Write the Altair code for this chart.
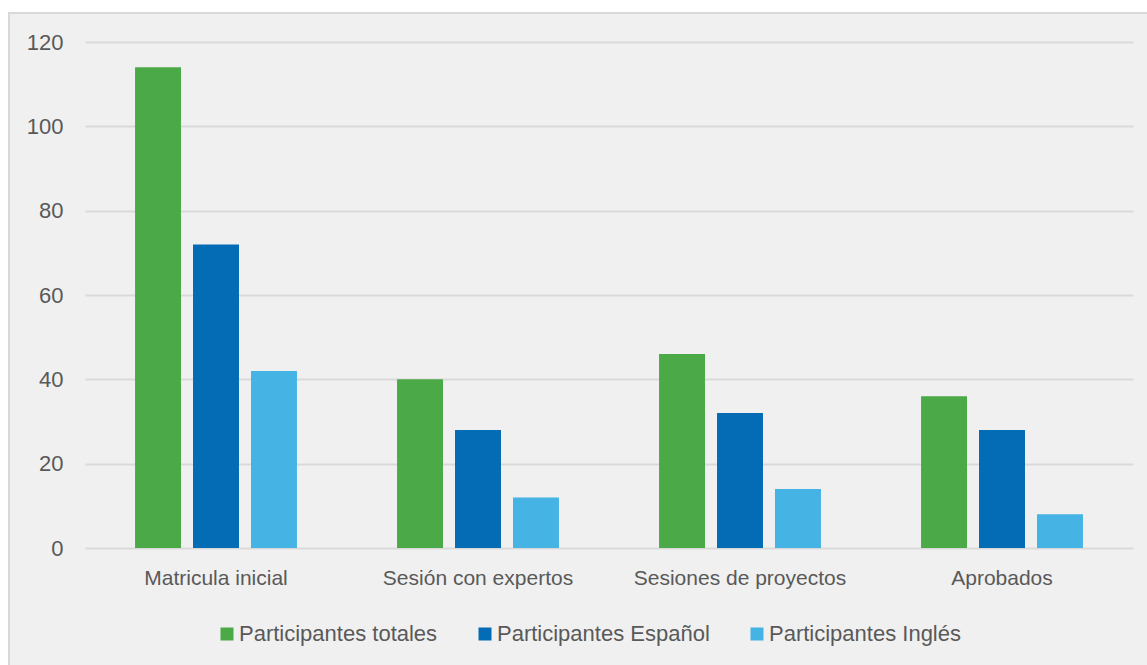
import altair as alt
import pandas as pd

categories = ["Matricula inicial", "Sesión con expertos", "Sesiones de proyectos", "Aprobados"]
series = ["Participantes totales", "Participantes Español", "Participantes Inglés"]
totales = [114, 40, 46, 36]
espanol = [72, 28, 32, 28]
ingles = [42, 12, 14, 8]
colors = ["#4CA948", "#046BB5", "#45B3E3"]
y_ticks = [0, 20, 40, 60, 80, 100, 120]

rows = []
for i, c in enumerate(categories):
    for s, vals in zip(series, [totales, espanol, ingles]):
        rows.append({"categoria": c, "serie": s, "valor": vals[i]})
df = pd.DataFrame(rows)

FONT = "Liberation Sans"
TXT = "#595959"

bars = alt.Chart(df).mark_bar().encode(
    x=alt.X("categoria:N", sort=categories, title=None,
            scale=alt.Scale(paddingInner=0.382, paddingOuter=0.191),
            axis=alt.Axis(labelAngle=0, ticks=False, domain=False, grid=False,
                          labelFontSize=21, labelColor=TXT, labelFont=FONT,
                          labelPadding=19, labelLimit=0)),
    xOffset=alt.XOffset("serie:N", sort=series,
                        scale=alt.Scale(paddingInner=0.207, paddingOuter=0)),
    y=alt.Y("valor:Q", title=None,
            scale=alt.Scale(domain=[0, 120], nice=False),
            axis=alt.Axis(values=y_ticks, ticks=False, domain=False, grid=True,
                          gridColor="#d9d9d9", gridWidth=2,
                          labelFontSize=22, labelColor=TXT, labelFont=FONT,
                          labelPadding=22, labelLimit=0)),
    color=alt.Color("serie:N", sort=series,
                    scale=alt.Scale(domain=series, range=colors),
                    legend=alt.Legend(orient="none", legendX=131, legendY=581,
                                      direction="horizontal", columns=3,
                                      title=None, symbolType="square",
                                      symbolSize=169, symbolStrokeWidth=0,
                                      labelFontSize=22, labelColor=TXT,
                                      labelFont=FONT, labelOffset=1,
                                      labelLimit=0, columnPadding=36)),
)

one = alt.Data(values=[{}])
white_left = alt.Chart(one).mark_rect(color="white").encode(
    x=alt.value(-85), x2=alt.value(-77), y=alt.value(-42), y2=alt.value(623))
white_top = alt.Chart(one).mark_rect(color="white").encode(
    x=alt.value(-85), x2=alt.value(1062), y=alt.value(-42), y2=alt.value(-30))
border_left = alt.Chart(one).mark_rule(color="#d9d9d9", strokeWidth=2).encode(
    x=alt.value(-76), y=alt.value(-30), y2=alt.value(623))
border_top = alt.Chart(one).mark_rule(color="#d9d9d9", strokeWidth=2).encode(
    y=alt.value(-29), x=alt.value(-77), x2=alt.value(1062))

chart = alt.layer(bars, white_left, white_top, border_left, border_top).properties(
    width=1048, height=506,
    autosize=alt.AutoSizeParams(type="none"),
    padding={"left": 85, "top": 42, "right": 14, "bottom": 117},
    background="#f0f0f0",
).configure_view(stroke=None, fill="#f0f0f0")

chart.save("out.html", embed_options={"renderer": "svg", "actions": False})
